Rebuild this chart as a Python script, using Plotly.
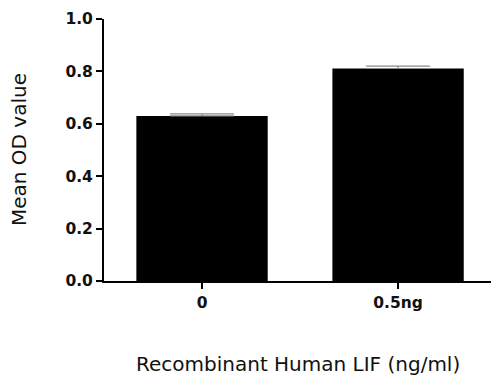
import plotly.graph_objects as go

categories = ["0", "0.5ng"]
means = [0.630, 0.811]
errors = [0.008, 0.009]
yticks = [0.0, 0.2, 0.4, 0.6, 0.8, 1.0]

xpos = list(range(len(categories)))

L, T, B, W, H = 104, 19, 97, 491, 378
plot_h = H - T - B
plot_w = W - L

fig = go.Figure()
fig.add_trace(go.Bar(
    x=xpos, y=means, width=0.67,
    marker=dict(color="black", line=dict(width=0)),
    error_y=dict(type="data", symmetric=False, array=errors,
                 arrayminus=[0] * len(errors), visible=True,
                 color="#8a8a8a", thickness=1.2, width=32),
    showlegend=False,
))

font_family = "DejaVu Sans, Arial, sans-serif"

fig.update_layout(
    width=W, height=H,
    margin=dict(l=L, r=0, t=T, b=B, autoexpand=False),
    paper_bgcolor="white", plot_bgcolor="white",
    font=dict(family=font_family, color="#111111"),
    xaxis=dict(
        range=[-0.5, 1.474], tickmode="array", tickvals=xpos,
        ticktext=[f"<b>{c}</b>" for c in categories],
        showline=True, linecolor="black", linewidth=2,
        ticks="outside", ticklen=6, tickwidth=2, tickcolor="black",
        tickfont=dict(size=15.5), showgrid=False, zeroline=False,
        automargin=False,
    ),
    yaxis=dict(
        range=[0, 1.0], tickmode="array", tickvals=yticks,
        ticktext=[f"<b>{v:.1f}</b>" for v in yticks],
        showline=True, linecolor="black", linewidth=2,
        ticks="outside", ticklen=6, tickwidth=2, tickcolor="black",
        tickfont=dict(size=15.5), showgrid=False, zeroline=False,
        automargin=False,
    ),
    annotations=[
        dict(text="Recombinant Human LIF (ng/ml)", xref="paper", yref="paper",
             x=0.5, y=(280.7 - 364) / plot_h, xanchor="center", yanchor="middle",
             showarrow=False, font=dict(size=20, family=font_family, color="#111111")),
        dict(text="Mean OD value", xref="paper", yref="paper",
             x=(19 - L) / plot_w, y=0.5, xanchor="center", yanchor="middle",
             textangle=-90, showarrow=False,
             font=dict(size=20, family=font_family, color="#111111")),
    ],
)

fig.write_html("out.html",
               config={"displayModeBar": False},
               post_script="document.body.style.margin='0';document.body.style.overflow='hidden';")
